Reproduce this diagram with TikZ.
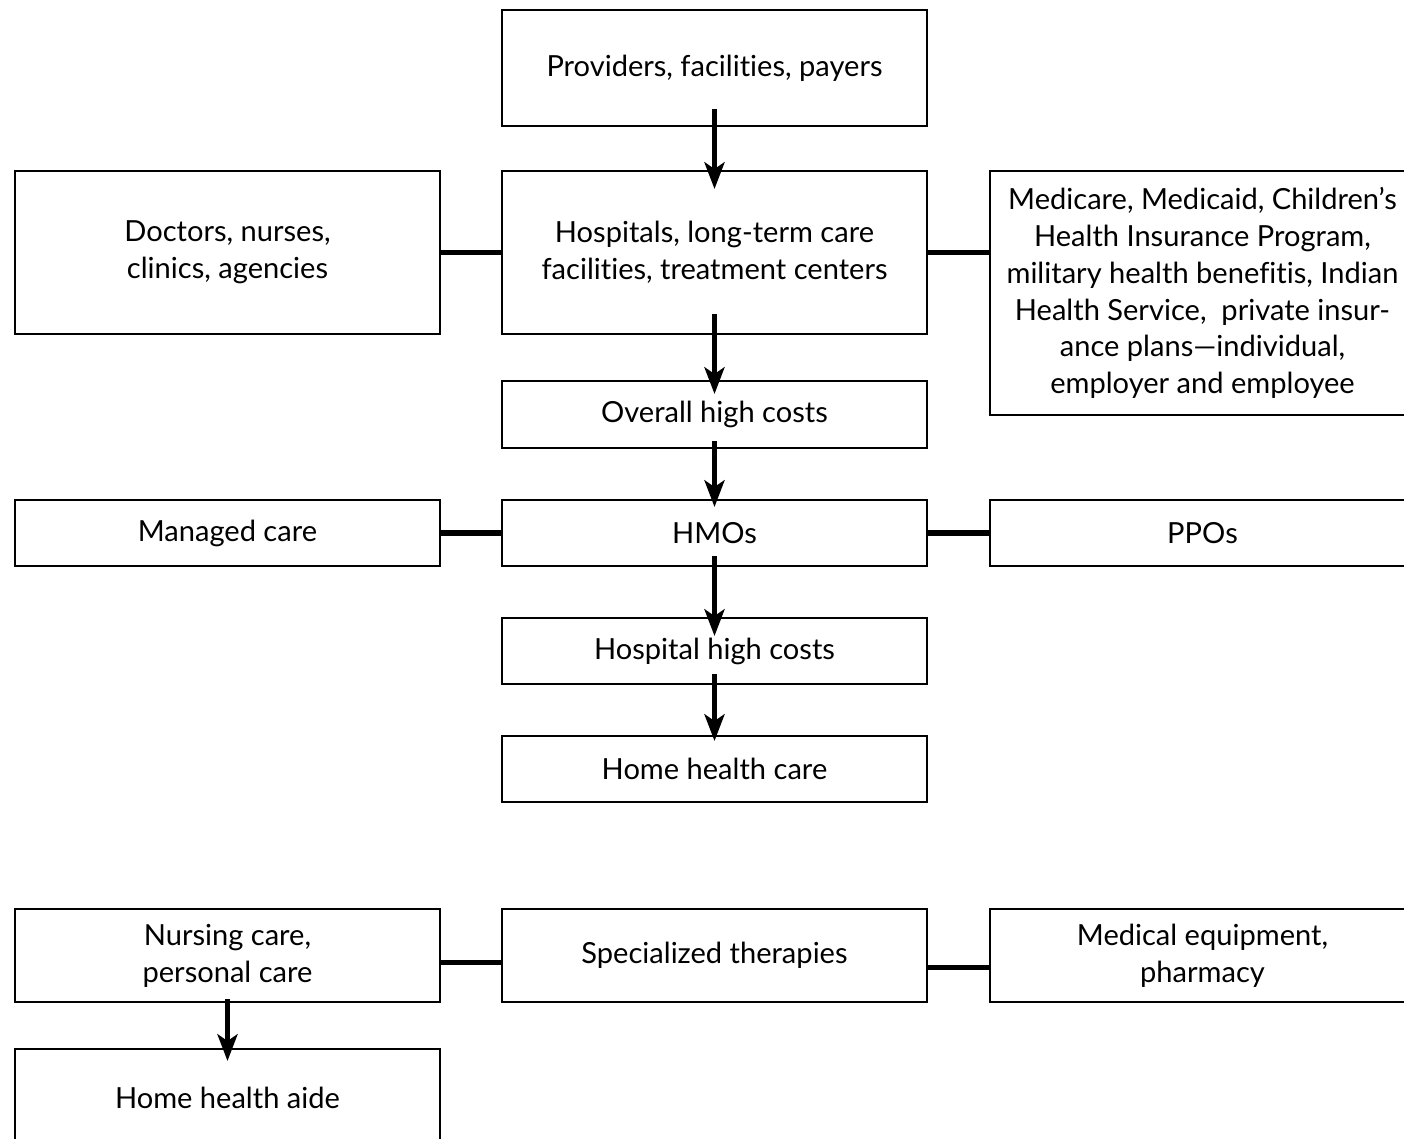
\documentclass[tikz,border=0pt]{standalone}
\usepackage{fontspec}
\setmainfont{Lato}[RawFeature=-liga]
\usetikzlibrary{arrows.meta,calc}
\tikzset{
  box/.style={draw, line width=1.5pt, rectangle, align=center, inner sep=0pt,
    minimum width=318.75pt, font=\fontsize{21.8}{27.6}\selectfont},
  link/.style={line width=3.8pt},
  flow/.style={line width=3.6pt, -{Stealth[length=20pt,width=15pt,inset=5pt]}}
}
\begin{document}
\begin{tikzpicture}[x=0.75pt,y=-0.75pt]
\useasboundingbox (0,0) rectangle (1404,1139);
\clip (0,0) rectangle (1404,1139);
% boxes
\node[box, minimum height=87pt] (prov) at (714.5,68) {Providers, facilities, payers};
\node[box, minimum height=122.25pt] (hosp) at (714.5,252.5) {Hospitals, long-term care\\facilities, treatment centers};
\node[box, minimum height=122.25pt] (doc) at (227.5,252.5) {Doctors, nurses,\\clinics, agencies};
\node[box, minimum height=183pt] (medi) at (1202.5,293) {Medicare, Medicaid, Children’s\\Health Insurance Program,\\military health benefitis, Indian\\Health Service,\ \ private insur-\\ance plans—individual,\\employer and employee};
\node[box, minimum height=50.25pt] (over) at (714.5,414.5) {Overall high costs};
\node[box, minimum height=49.5pt] (mc) at (227.5,533) {Managed care};
\node[box, minimum height=49.5pt] (hmo) at (714.5,533) {HMOs};
\node[box, minimum height=49.5pt] (ppo) at (1202.5,533) {PPOs};
\node[box, minimum height=49.5pt] (hhc) at (714.5,651) {Hospital high costs};
\node[box, minimum height=49.5pt] (home) at (714.5,769) {Home health care};
\node[box, minimum height=69.75pt] (nurs) at (227.5,955.5) {Nursing care,\\personal care};
\node[box, minimum height=69.75pt] (spec) at (714.5,955.5) {Specialized therapies};
\node[box, minimum height=69.75pt] (equip) at (1202.5,955.5) {Medical equipment,\\pharmacy};
\node[box, minimum height=73.5pt] (aide) at (227.5,1098) {Home health aide};
% horizontal links
\draw[link] (doc.east) -- (hosp.west);
\draw[link] (hosp.east) -- (hosp.east -| medi.west);
\draw[link] (mc.east) -- (hmo.west);
\draw[link] (hmo.east) -- (ppo.west);
\draw[link] ($(nurs.east)+(0,7)$) -- ($(spec.west)+(0,7)$);
\draw[link] ($(spec.east)+(0,12)$) -- ($(equip.west)+(0,12)$);
% arrows
\draw[flow] ($(prov.south)+(0,-18)$) -- ($(hosp.north)+(0,19)$);
\draw[flow] ($(hosp.south)+(0,-21)$) -- ($(over.north)+(0,14)$);
\draw[flow] ($(over.south)+(0,-8)$) -- ($(hmo.north)+(0,8)$);
\draw[flow] ($(hmo.south)+(0,-11)$) -- ($(hhc.north)+(0,19)$);
\draw[flow] ($(hhc.south)+(0,-11)$) -- ($(home.north)+(0,6)$);
\draw[flow] ($(nurs.south)+(0,-4)$) -- ($(aide.north)+(0,13)$);
\end{tikzpicture}
\end{document}
